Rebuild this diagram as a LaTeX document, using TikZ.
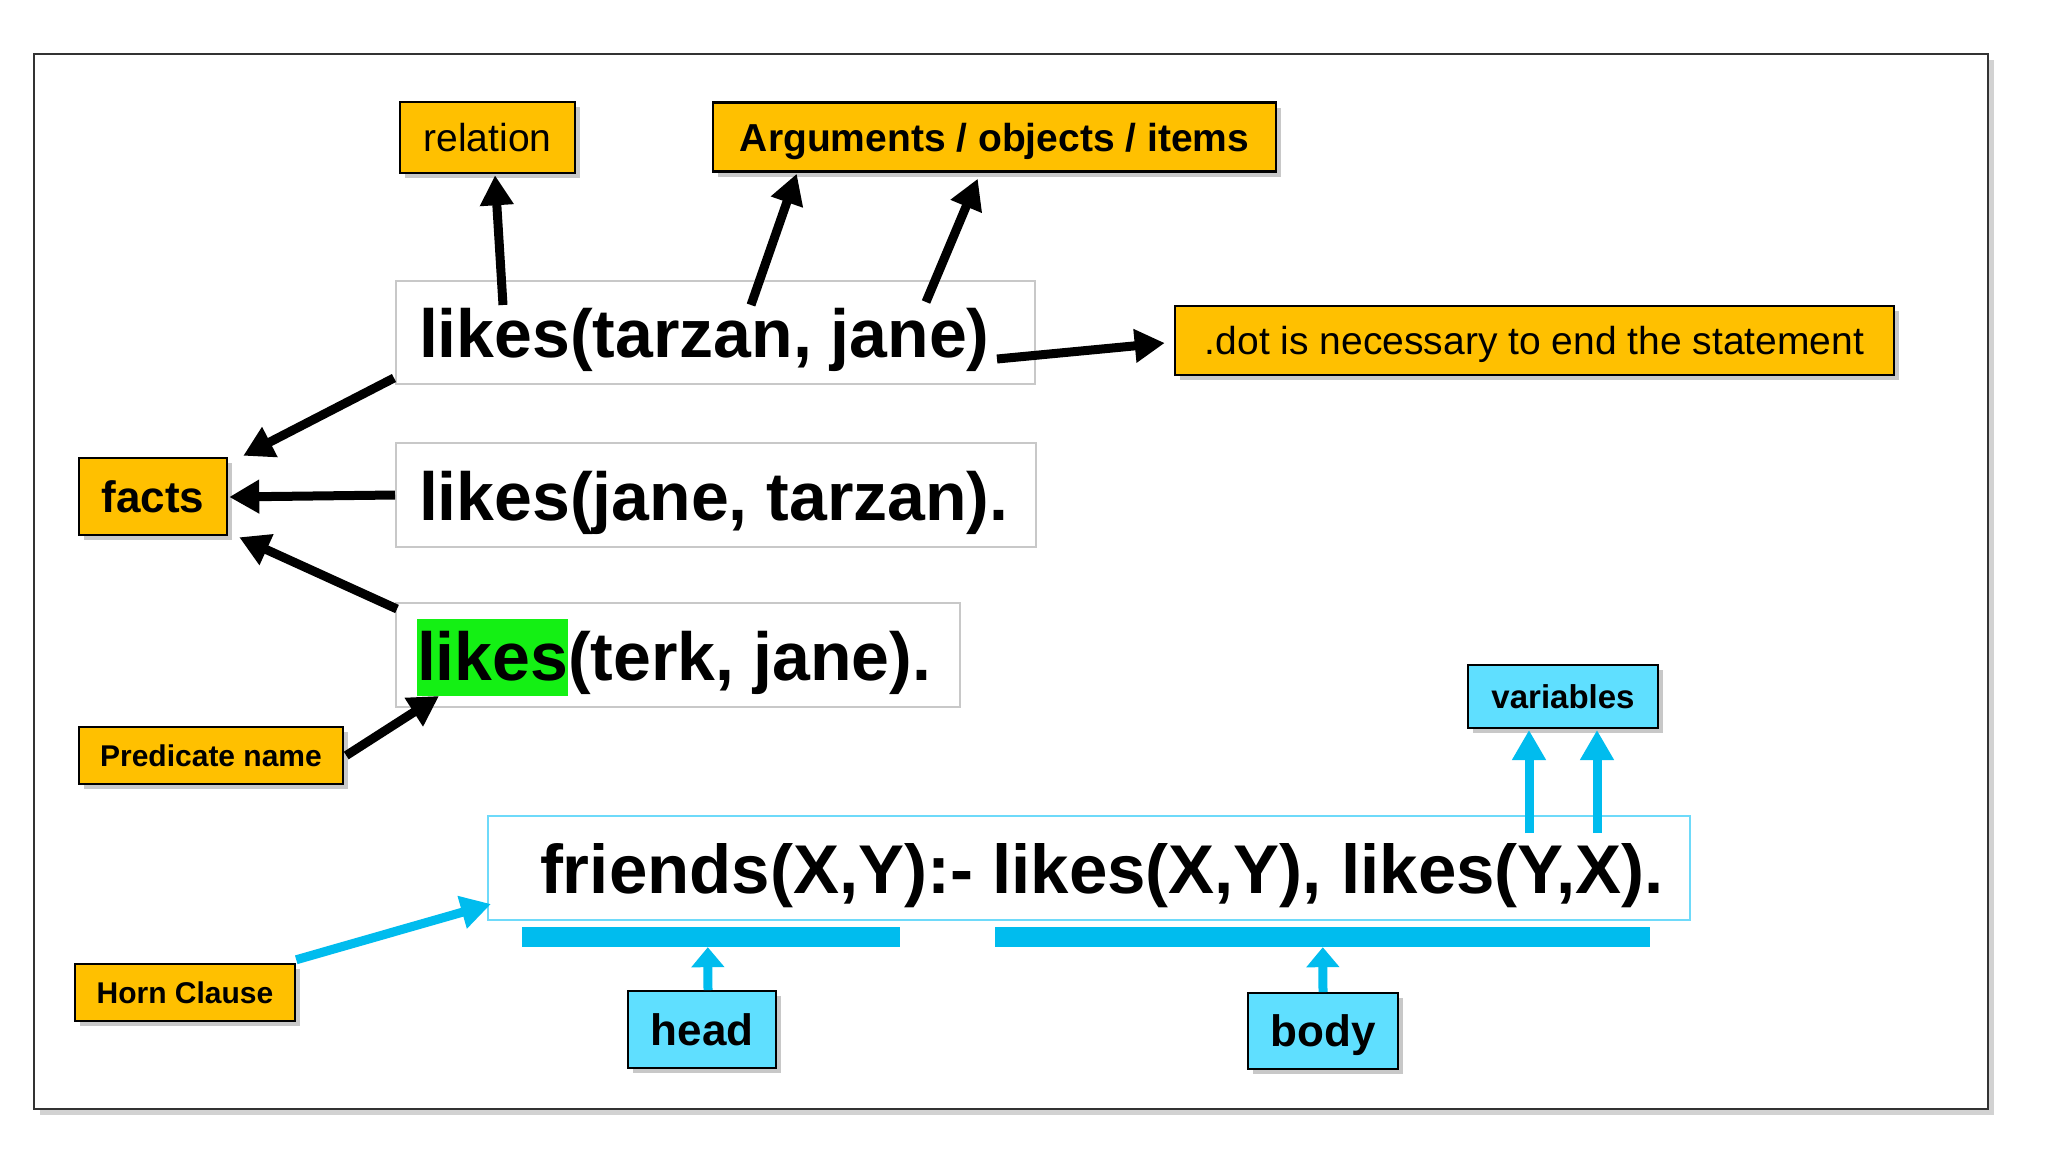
\documentclass[tikz,border=0pt]{standalone}
\usepackage{fontspec}
\setmainfont{Liberation Sans}
\usetikzlibrary{arrows.meta,shadows,calc}
\definecolor{orng}{RGB}{255,192,0}
\definecolor{cybox}{RGB}{95,223,255}
\definecolor{cyline}{RGB}{0,188,238}
\definecolor{hlgreen}{RGB}{20,240,20}
\definecolor{lgray}{RGB}{200,200,200}
\definecolor{frborder}{RGB}{110,218,250}
\newcommand{\leftbox}[3]{\makebox[#1pt][l]{\hspace*{#2pt}#3}}
\newcommand{\hlword}[1]{{\setlength{\fboxsep}{0pt}\colorbox{hlgreen}{\rule[-15.5pt]{0pt}{77pt}#1}}}
\begin{document}
\begin{tikzpicture}[x=1pt,y=-1pt,
  shad/.style={drop shadow={shadow xshift=5pt,shadow yshift=-5pt,opacity=0.3,fill=black!70}},
  lbl/.style={draw=black, line width=2.5pt, fill=orng, inner sep=0pt, shad},
  cylbl/.style={lbl, fill=cybox, line width=2pt},
  f39/.style={font=\fontsize{39}{47}\selectfont, text height=28pt, text depth=0pt},
  f39b/.style={font=\bfseries\fontsize{39}{47}\selectfont, text height=28pt, text depth=0pt},
  f44b/.style={font=\bfseries\fontsize{44}{53}\selectfont, text height=31.5pt, text depth=0pt},
  f33b/.style={font=\bfseries\fontsize{33}{40}\selectfont, text height=24pt, text depth=0pt},
  f30b/.style={font=\bfseries\fontsize{30}{36}\selectfont, text height=21.5pt, text depth=0pt},
  stmt/.style={draw=lgray, line width=2pt, fill=white, inner sep=0pt, text height=50pt, text depth=0pt, font=\bfseries\fontsize{68}{80}\selectfont},
  bar/.style={fill=cyline, inner sep=0pt, minimum height=20pt},
  blk/.style={line width=9pt, black, -{Triangle[length=30pt,width=32pt]}},
  cya/.style={line width=9pt, cyline, -{Triangle[length=30pt,width=32pt]}},
  cyashort/.style={line width=9pt, cyline, -{Triangle[length=20pt,width=32pt]}}
]
\useasboundingbox (0,0) rectangle (2048,1152);
\fill[white] (0,0) rectangle (2048,1152);

% frame
\node[draw=black!80, line width=2.5pt, fill=white, minimum width=1954pt, minimum height=1055pt, inner sep=0pt,
  drop shadow={shadow xshift=6pt,shadow yshift=-6pt,opacity=0.35}] (frame) at (1011,581.5) {};

% labels
\node[lbl, f39, minimum width=175pt, minimum height=71pt] (rel) at (487.5,137.5) {relation};
\node[lbl, f39b, minimum width=563pt, minimum height=69pt] (args) at (994.5,137) {Arguments / objects / items};
\node[lbl, f39, minimum width=719pt, minimum height=69pt] (dot) at (1534.5,340.5) {.dot is necessary to end the statement};
\node[lbl, f44b, minimum width=148pt, minimum height=77pt] (facts) at (153,496.5) {facts};
\node[lbl, f30b, minimum width=264pt, minimum height=57pt] (pred) at (211,755.5) {Predicate name};
\node[lbl, f30b, minimum width=220pt, minimum height=57pt] (horn) at (185,992.5) {Horn Clause};
\node[cylbl, f33b, minimum width=190pt, minimum height=63pt] (vars) at (1563,696.5) {variables};
\node[cylbl, f44b, minimum width=148pt, minimum height=77pt] (head) at (702,1029.5) {head};
\node[cylbl, f44b, minimum width=150pt, minimum height=76pt] (body) at (1323,1031) {body};

% statements
\node[stmt, minimum height=103pt] (l1) at (715.5,332.5) {\leftbox{639}{23}{likes(tarzan, jane)}};
\node[stmt, minimum height=104pt] (l2) at (716,495) {\leftbox{640}{23}{likes(jane, tarzan).}};
\node[stmt, minimum height=104pt] (l3) at (678,655) {\leftbox{564}{21}{\hlword{likes}(terk, jane).}};
\node[stmt, draw=frborder, minimum height=104pt, text height=50.5pt, font=\bfseries\fontsize{69}{80}\selectfont] (fr) at (1089,868) {\leftbox{1202}{52}{friends(X,Y):- likes(X,Y), likes(Y,X).}};

% bars
\node[bar, minimum width=378pt] (hbar) at (711,937) {};
\node[bar, minimum width=655pt] (bbar) at (1322.5,937) {};

% black arrows
\draw[blk] ($(l1.north west)+(108,25)$) -- ($(rel.south)+(7.5,1)$);
\draw[blk] ($(l1.north west)+(356,25)$) -- ($(args.south west)+(85,1)$);
\draw[blk] ($(l1.north west)+(531,22)$) -- ($(args.south west)+(266,6)$);
\draw[blk] ($(l1.south east)+(-39,-26)$) -- ($(dot.west)+(-9,2.5)$);
\draw[blk] ($(l1.south west)+(-1,-7)$) -- ($(facts.north east)+(15,-1)$);
\draw[blk] (l2.west) -- ($(facts.east)+(1,0.5)$);
\draw[blk] ($(l3.north west)+(2,7)$) -- ($(facts.south east)+(11,1)$);
\draw[blk] ($(pred.east)+(2,0)$) -- ($(l3.south west)+(44,-12)$);

% cyan arrows
\draw[cya] ($(horn.north east)+(0,-3)$) -- ($(fr.south west)+(4,-17)$);
\draw[cya] ($(fr.north west)+(1042,18)$) -- ($(vars.south west)+(62,1)$);
\draw[cya] ($(fr.north west)+(1110,18)$) -- ($(vars.south west)+(130,1)$);
\draw[cyashort] ($(head.north)+(6,0)$) -- ($(hbar.south west)+(186,0)$);
\draw[cyashort] (body.north) -- ($(bbar.south west)+(328,0)$);
\end{tikzpicture}
\end{document}
